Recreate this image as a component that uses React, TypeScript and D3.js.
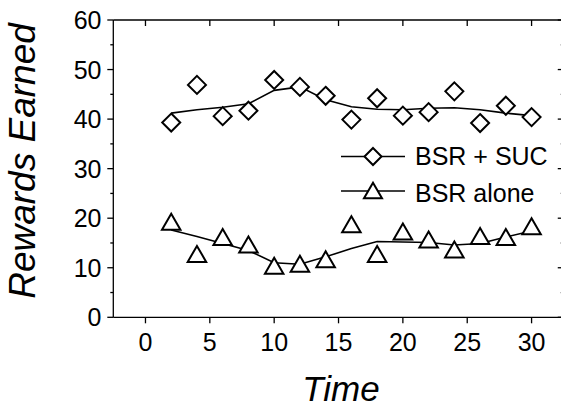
import React from "react";
import * as d3 from "d3";

const times = [2, 4, 6, 8, 10, 12, 14, 16, 18, 20, 22, 24, 26, 28, 30];
const sucValues = [39.3, 46.9, 40.6, 41.7, 47.9, 46.5, 44.7, 39.9, 44.2, 40.7, 41.4, 45.6, 39.2, 42.7, 40.4];
const sucSmooth = [41.2, 41.9, 42.4, 43.1, 45.8, 46.5, 43.9, 42.5, 42.0, 41.9, 42.2, 42.3, 41.9, 41.2, 40.7];
const aloneValues = [19.3, 12.8, 16.2, 14.7, 10.4, 10.8, 11.7, 18.8, 12.8, 17.3, 15.7, 13.7, 16.4, 16.2, 18.4];
const aloneSmooth = [17.6, 16.3, 14.9, 13.5, 11.0, 10.7, 12.2, 13.9, 15.3, 15.2, 15.1, 14.6, 14.9, 16.2, 17.4];
const xTicks = [0, 5, 10, 15, 20, 25, 30];
const yMajor = [0, 10, 20, 30, 40, 50, 60];
const yMinor = [5, 15, 25, 35, 45, 55];
const legendLabels = ["BSR + SUC", "BSR alone"];

const FONT = "'Liberation Sans', Arial, Helvetica, sans-serif";

export default function App() {
  const W = 561, H = 409;
  const left = 113.3, top = 20, bottom = 317.3;
  const x = d3.scaleLinear().domain([-2.5, 32.5]).range([left, left + 35 * 12.87]);
  const y = d3.scaleLinear().domain([0, 60]).range([bottom, top]);
  const right = x(32.5);

  const line = d3.line<number>().x((_, i) => x(times[i])).y((d) => y(d));

  const diamond = (cx: number, cy: number, r: number) =>
    `M${cx},${cy - r}L${cx + r},${cy}L${cx},${cy + r}L${cx - r},${cy}Z`;
  const triangle = (cx: number, cy: number, w: number, h: number) =>
    `M${cx},${cy - h / 2}L${cx + w / 2},${cy + h / 2}L${cx - w / 2},${cy + h / 2}Z`;

  const axisStroke = { stroke: "#000", strokeWidth: 1.3 };
  const markerStyle = { fill: "#fff", stroke: "#000", strokeWidth: 2 };

  return (
    <svg width={W} height={H} style={{ position: "absolute", left: 0, top: 0, background: "#fff" }} fontFamily={FONT}>
      <rect x={0} y={0} width={W} height={H} fill="#fff" />
      {/* frame */}
      <line x1={left} x2={right} y1={top} y2={top} {...axisStroke} />
      <line x1={left} x2={right} y1={bottom} y2={bottom} {...axisStroke} />
      <line x1={left} x2={left} y1={top} y2={bottom} {...axisStroke} />
      <line x1={right} x2={right} y1={top} y2={bottom} {...axisStroke} />

      {/* x ticks */}
      {xTicks.map((t) => (
        <g key={"xt" + t}>
          <line x1={x(t)} x2={x(t)} y1={bottom} y2={bottom + 6} {...axisStroke} />
          <line x1={x(t)} x2={x(t)} y1={top} y2={top + 6} {...axisStroke} />
          <text x={x(t)} y={351} fontSize={25} textAnchor="middle" fill="#000">{t}</text>
        </g>
      ))}
      {/* y ticks */}
      {yMajor.map((t) => (
        <g key={"ym" + t}>
          <line x1={left - 6} x2={left} y1={y(t)} y2={y(t)} {...axisStroke} />
          <line x1={right - 6} x2={right} y1={y(t)} y2={y(t)} {...axisStroke} />
          <text x={101.5} y={y(t) + 9} fontSize={25} textAnchor="end" fill="#000">{t}</text>
        </g>
      ))}
      {yMinor.map((t) => (
        <g key={"yn" + t}>
          <line x1={left - 3} x2={left} y1={y(t)} y2={y(t)} {...axisStroke} />
          <line x1={right - 3} x2={right} y1={y(t)} y2={y(t)} {...axisStroke} />
        </g>
      ))}

      {/* smooth lines */}
      <path d={line(sucSmooth) || ""} fill="none" stroke="#000" strokeWidth={1.6} />
      <path d={line(aloneSmooth) || ""} fill="none" stroke="#000" strokeWidth={1.6} />

      {/* markers */}
      {sucValues.map((v, i) => (
        <path key={"d" + i} d={diamond(x(times[i]), y(v), 9)} {...markerStyle} />
      ))}
      {aloneValues.map((v, i) => (
        <path key={"t" + i} d={triangle(x(times[i]), y(v), 18.5, 16)} {...markerStyle} />
      ))}

      {/* legend */}
      <g>
        <line x1={341} x2={405} y1={156.5} y2={156.5} stroke="#000" strokeWidth={1.6} />
        <path d={diamond(373, 156.5, 8.5)} {...markerStyle} />
        <text x={415} y={165} fontSize={25} fill="#000">{legendLabels[0]}</text>
        <line x1={341} x2={405} y1={191} y2={191} stroke="#000" strokeWidth={1.6} />
        <path d={triangle(373, 190.5, 18, 15.5)} {...markerStyle} />
        <text x={415} y={201.7} fontSize={25} fill="#000">{legendLabels[1]}</text>
      </g>

      {/* axis titles */}
      <text x={341} y={401} fontSize={35} fontStyle="italic" textAnchor="middle" fill="#000">Time</text>
      <text transform="translate(35,161) rotate(-90)" fontSize={37} fontStyle="italic" textAnchor="middle" fill="#000">Rewards Earned</text>
    </svg>
  );
}
